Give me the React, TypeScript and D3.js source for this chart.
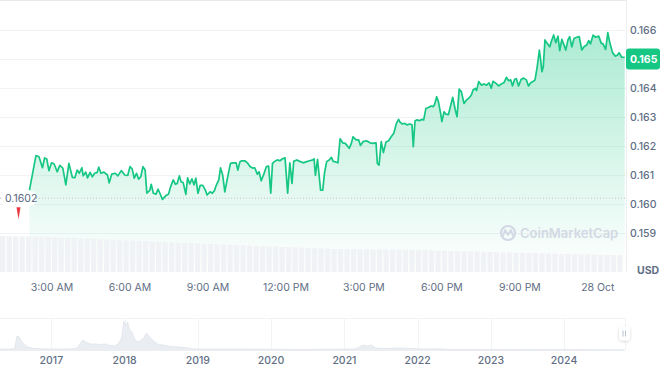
import React from "react";
import * as d3 from "d3";

// ---- price series (minutes since 27 Oct 2024 00:00 UTC, price USD) ----
const priceMinutes = [
  128,143,150,158,163,168,173,179,185,192,
  198,205,212,219,227,233,238,243,249,252,
  258,262,268,273,279,284,288,293,300,308,
  312,318,326,332,340,348,355,360,365,370,
  375,380,385,390,395,399,406,409,414,420,
  425,429,435,443,449,454,460,465,469,474,
  478,483,489,493,498,503,508,512,517,522,
  528,534,538,545,550,555,558,565,569,574,
  579,585,592,598,605,609,614,618,625,631,
  637,643,648,654,658,663,669,675,680,685,
  689,694,700,706,712,718,724,729,734,738,
  745,752,760,768,775,782,785,788,793,800,
  805,809,814,820,825,829,835,840,845,851,
  857,861,866,871,875,882,888,892,898,906,
  914,921,928,931,935,940,945,951,957,963,
  969,975,980,983,988,994,999,1006,1011,1014,
  1018,1023,1028,1034,1038,1043,1049,1055,1060,1063,
  1068,1072,1077,1080,1085,1089,1095,1100,1105,1111,
  1115,1120,1125,1131,1137,1143,1148,1152,1157,1160,
  1165,1171,1177,1183,1189,1194,1198,1205,1211,1217,
  1223,1229,1234,1239,1243,1248,1252,1257,1263,1269,
  1275,1280,1285,1291,1295,1300,1305,1308,1311,1314,
  1318,1323,1329,1334,1338,1343,1348,1352,1357,1362,
  1366,1371,1375,1380,1385,1391,1397,1403,1408,1414,
  1419,1423,1429,1435,1442,1448,1452,1458,1463,1468,
  1474,1480,1485,1489,1495,1502,
];
const prices = [
  0.16048,0.16167,0.16163,0.16125,0.16159,0.16155,0.16115,0.16142,0.16138,0.16111,
  0.16133,0.16124,0.16066,0.16140,0.16092,0.16091,0.16117,0.16106,0.16125,0.16097,
  0.16110,0.16090,0.16109,0.16094,0.16107,0.16108,0.16127,0.16106,0.16110,0.16100,
  0.16073,0.16103,0.16106,0.16097,0.16115,0.16100,0.16099,0.16129,0.16121,0.16089,
  0.16106,0.16086,0.16094,0.16129,0.16117,0.16037,0.16048,0.16068,0.16037,0.16034,
  0.16051,0.16037,0.16016,0.16029,0.16034,0.16060,0.16083,0.16068,0.16071,0.16097,
  0.16077,0.16073,0.16033,0.16090,0.16069,0.16087,0.16066,0.16089,0.16037,0.16064,
  0.16064,0.16048,0.16031,0.16042,0.16037,0.16046,0.16060,0.16083,0.16125,0.16100,
  0.16042,0.16089,0.16140,0.16142,0.16142,0.16117,0.16146,0.16149,0.16149,0.16142,
  0.16129,0.16124,0.16125,0.16103,0.16111,0.16080,0.16103,0.16129,0.16131,0.16037,
  0.16140,0.16147,0.16152,0.16149,0.16156,0.16159,0.16037,0.16142,0.16071,0.16147,
  0.16152,0.16147,0.16142,0.16146,0.16149,0.16152,0.16156,0.16099,0.16154,0.16048,
  0.16048,0.16106,0.16146,0.16152,0.16161,0.16147,0.16145,0.16142,0.16225,0.16211,
  0.16209,0.16202,0.16192,0.16209,0.16232,0.16221,0.16221,0.16202,0.16215,0.16218,
  0.16211,0.16209,0.16211,0.16140,0.16134,0.16215,0.16177,0.16214,0.16218,0.16232,
  0.16244,0.16278,0.16292,0.16283,0.16276,0.16278,0.16273,0.16276,0.16273,0.16198,
  0.16287,0.16290,0.16287,0.16292,0.16290,0.16329,0.16333,0.16338,0.16336,0.16342,
  0.16370,0.16353,0.16313,0.16284,0.16318,0.16310,0.16308,0.16338,0.16368,0.16324,
  0.16301,0.16396,0.16387,0.16347,0.16359,0.16366,0.16376,0.16393,0.16399,0.16391,
  0.16422,0.16410,0.16414,0.16410,0.16418,0.16399,0.16423,0.16416,0.16407,0.16414,
  0.16418,0.16437,0.16425,0.16428,0.16407,0.16430,0.16432,0.16407,0.16430,0.16434,
  0.16428,0.16407,0.16418,0.16423,0.16428,0.16473,0.16531,0.16497,0.16456,0.16473,
  0.16566,0.16554,0.16542,0.16566,0.16583,0.16556,0.16579,0.16529,0.16568,0.16548,
  0.16531,0.16566,0.16577,0.16542,0.16571,0.16575,0.16577,0.16531,0.16542,0.16548,
  0.16563,0.16552,0.16582,0.16575,0.16579,0.16554,0.16552,0.16533,0.16591,0.16554,
  0.16522,0.16510,0.16513,0.16522,0.16506,0.16506,
];

// ---- 24h volume (billions USD), 15-minute bars from 01:00 ----
const volumeStartMinute = 60;
const volumeStepMinutes = 15;
const volumes = [
  2.00,1.99,1.98,1.97,1.97,1.96,1.95,1.94,1.93,1.92,1.91,1.90,1.88,1.86,1.84,1.82,1.80,
  1.78,1.77,1.75,1.74,1.72,1.71,1.69,1.68,1.66,1.65,1.63,1.62,1.60,1.59,1.57,1.56,1.54,
  1.53,1.51,1.50,1.48,1.47,1.45,1.44,1.42,1.41,1.39,1.38,1.37,1.35,1.34,1.32,1.31,1.30,1.28,
  1.28,1.27,1.27,1.26,1.26,1.25,1.25,1.24,1.24,1.23,1.23,1.22,1.22,
  1.21,1.20,1.19,1.18,1.17,1.16,1.15,1.14,1.13,1.12,1.11,1.10,1.09,1.08,1.07,1.06,1.06,
  1.05,1.04,1.03,1.02,1.01,1.00,0.99,0.99,0.98,0.97,0.96,0.95,0.95,0.94,
];

// ---- axis ticks ----
const yTicks = [0.159, 0.16, 0.161, 0.162, 0.163, 0.164, 0.165, 0.166];
const xTickHours = [3, 6, 9, 12, 15, 18, 21, 24];
const openPrice = 0.1602;
const lastPrice = 0.165;

// ---- navigator (full history, decimal years) ----
const navYears = [
  2016.30,2016.43,2016.50,2016.53,2016.56,2016.60,2016.64,2016.68,2016.77,2016.98,
  2017.25,2017.35,2017.39,2017.43,2017.47,2017.53,2017.59,2017.66,2017.74,2017.80,
  2017.87,2017.92,2017.96,2017.99,2018.02,2018.04,2018.07,2018.10,2018.13,2018.17,
  2018.21,2018.26,2018.30,2018.34,2018.40,2018.45,2018.52,2018.62,2018.75,2018.86,
  2018.96,2019.57,2020.39,2021.14,2021.21,2021.25,2021.32,2021.37,2021.43,2021.55,
  2021.75,2021.92,2022.10,2022.30,2022.44,2024.82,
];
const navValues = [
  1,1,1.5,14,13,8,5,3,1.5,1,
  1,2,6,10,8,6,6,5.5,6,4.5,
  4,7,12,29,24,28,20,18,12,8,
  9,12,17,13,9,6,5,3.5,3,2,
  1,1,0.5,1,3,5,4,5,2,1.5,
  2,1.5,1,1.2,0.5,0.3,
];
const navYearTicks = [2017, 2018, 2019, 2020, 2021, 2022, 2023, 2024];

const FONT = "Inter, 'Noto Sans', sans-serif";
const GREEN = "#16c784";
const TEXT = "#616e85";

function decToDate(d: number) {
  const yr = Math.floor(d);
  const start = Date.UTC(yr, 0, 1);
  const end = Date.UTC(yr + 1, 0, 1);
  return new Date(start + (d - yr) * (end - start));
}

export default function App() {
  const plotRight = 626;
  const plotBottom = 272;
  const x = d3
    .scaleUtc()
    .domain([new Date(Date.UTC(2024, 9, 27, 1, 0)), new Date(Date.UTC(2024, 9, 27, 0, 1505))])
    .range([0, plotRight]);
  const y = d3.scaleLinear().domain([0.159, 0.166]).range([233, 30]);
  const yVol = d3.scaleLinear().domain([0, 4]).range([plotBottom, 200]);
  const t = (m: number) => new Date(Date.UTC(2024, 9, 27, 0, m));

  const pts = priceMinutes.map((m, i) => [t(m), prices[i]] as [Date, number]);
  const line = d3.line<[Date, number]>().x((d) => x(d[0])).y((d) => y(d[1]));
  const area = d3
    .area<[Date, number]>()
    .x((d) => x(d[0]))
    .y0(plotBottom)
    .y1((d) => y(d[1]));

  const fmt = d3.utcFormat("%-I:%M %p");
  const xTicks = xTickHours.map((h) => new Date(Date.UTC(2024, 9, 27, h, 0)));

  // navigator
  const navX = d3.scaleUtc().domain([decToDate(2016.3), decToDate(2024.83)]).range([0, 625]);
  const navY = d3.scaleLinear().domain([0, 32]).range([350, 318]);
  const navPts = navYears.map((yr, i) => [decToDate(yr), navValues[i]] as [Date, number]);
  const navArea = d3
    .area<[Date, number]>()
    .x((d) => navX(d[0]))
    .y0(350)
    .y1((d) => navY(d[1]));
  const navLine = d3.line<[Date, number]>().x((d) => navX(d[0])).y((d) => navY(d[1]));

  return (
    <svg
      width={664}
      height={382}
      style={{ position: "fixed", left: 0, top: 0, background: "#fff" }}
      fontFamily={FONT}
    >
      <defs>
        <linearGradient id="gfill" x1="0" y1="30" x2="0" y2={plotBottom} gradientUnits="userSpaceOnUse">
          <stop offset="0" stopColor={GREEN} stopOpacity={0.36} />
          <stop offset="1" stopColor={GREEN} stopOpacity={0.0} />
        </linearGradient>
        <filter id="shadow" x="-50%" y="-50%" width="200%" height="200%">
          <feDropShadow dx="0" dy="1" stdDeviation="1.5" floodColor="#000" floodOpacity="0.18" />
        </filter>
      </defs>

      {/* top border */}
      <line x1={0} x2={plotRight} y1={0.5} y2={0.5} stroke="#e8eaed" />
      {/* grid */}
      {yTicks.map((v) => (
        <line key={v} x1={0} x2={plotRight} y1={Math.round(y(v)) + 0.5} y2={Math.round(y(v)) + 0.5} stroke="#f1f3f6" />
      ))}
      <line x1={plotRight + 0.5} x2={plotRight + 0.5} y1={0} y2={plotBottom} stroke="#eceef2" />

      {/* area */}
      <path d={area(pts) || ""} fill="url(#gfill)" />

      {/* volume bars */}
      {volumes.map((v, i) => {
        const m0 = volumeStartMinute + i * volumeStepMinutes;
        const x0 = x(t(m0));
        const x1 = Math.min(x(t(m0 + volumeStepMinutes)), plotRight);
        return (
          <rect
            key={i}
            x={x0}
            y={yVol(v)}
            width={Math.max(0, x1 - x0 - 1.2)}
            height={plotBottom - yVol(v)}
            fill="#f0f2f5"
          />
        );
      })}

      {/* watermark */}
      <g>
        <circle cx={508} cy={233} r={7} fill="none" stroke="#d3d9e4" strokeWidth={2.2} />
        <path d="M503,236 L505,230 L508,235 L511,230 L513,236" fill="none" stroke="#d3d9e4" strokeWidth={1.8} strokeLinejoin="round" />
        <text x={520} y={233} dy="0.35em" fontSize={13} fontWeight={600} fill="#d3d9e4">
          CoinMarketCap
        </text>
      </g>

      {/* open reference line + price line */}
      <line
        x1={0}
        x2={plotRight}
        y1={y(openPrice)}
        y2={y(openPrice)}
        stroke="#c3c0c8"
        strokeDasharray="1,2"
      />
      <path d={line(pts) || ""} fill="none" stroke={GREEN} strokeWidth={1.7} strokeLinejoin="round" />

      {/* open price label */}
      <rect x={2} y={y(openPrice) - 7} width={33} height={14} rx={3} fill="#fff" />
      <text x={5} y={y(openPrice)} dy="0.35em" fontSize={10.5} fill="#58667e">
        {openPrice}
      </text>
      <path d={`M16.5,${y(openPrice) + 9} L20.5,${y(openPrice) + 9} L18.5,${y(openPrice) + 21} Z`} fill="#ea3943" />

      {/* y axis labels */}
      {yTicks
        .filter((v) => v !== lastPrice)
        .map((v) => (
          <text key={v} x={630} y={y(v)} dy="0.35em" fontSize={10.5} fontWeight={500} fill={TEXT}>
            {d3.format(".3f")(v)}
          </text>
        ))}
      <rect x={626} y={y(lastPrice) - 10.5} width={34} height={21} rx={3} fill={GREEN} />
      <text x={630} y={y(lastPrice)} dy="0.35em" fontSize={10.5} fontWeight={700} fill="#fff">
        {d3.format(".3f")(lastPrice)}
      </text>
      <text x={637} y={270} dy="0.35em" fontSize={10.5} fontWeight={700} fill={TEXT}>
        USD
      </text>

      {/* x axis labels */}
      {xTicks.map((d, i) => (
        <text key={i} x={x(d)} y={287} dy="0.35em" textAnchor="middle" fontSize={10.5} fill={TEXT}>
          {d.getUTCHours() === 0 ? d3.utcFormat("%-d %b")(d) : fmt(d)}
        </text>
      ))}

      {/* navigator */}
      <line x1={0} x2={625} y1={318.5} y2={318.5} stroke="#f1f3f6" />
      <line x1={0} x2={625} y1={350.5} y2={350.5} stroke="#eceef2" />
      {navYearTicks.map((yr) => {
        const xx = Math.round(navX(new Date(Date.UTC(yr, 0, 1)))) + 0.5;
        return <line key={yr} x1={xx} x2={xx} y1={318} y2={350} stroke="#f1f3f6" />;
      })}
      <line x1={625.5} x2={625.5} y1={318} y2={350} stroke="#f1f3f6" />
      <path d={navArea(navPts) || ""} fill="#eaeef3" />
      <path d={navLine(navPts) || ""} fill="none" stroke="#dfe4eb" strokeWidth={0.8} />
      {navYearTicks.map((yr) => (
        <text
          key={yr}
          x={navX(new Date(Date.UTC(yr, 0, 1)))}
          y={360}
          dy="0.35em"
          textAnchor="middle"
          fontSize={10.5}
          fontWeight={500}
          fill={TEXT}
        >
          {yr}
        </text>
      ))}
      <rect x={619} y={326.5} width={11} height={14} rx={4} fill="#fff" filter="url(#shadow)" />
      <line x1={623} x2={623} y1={330.5} y2={336.5} stroke="#a6b0c3" strokeWidth={0.8} />
      <line x1={625.5} x2={625.5} y1={330.5} y2={336.5} stroke="#a6b0c3" strokeWidth={0.8} />
    </svg>
  );
}
